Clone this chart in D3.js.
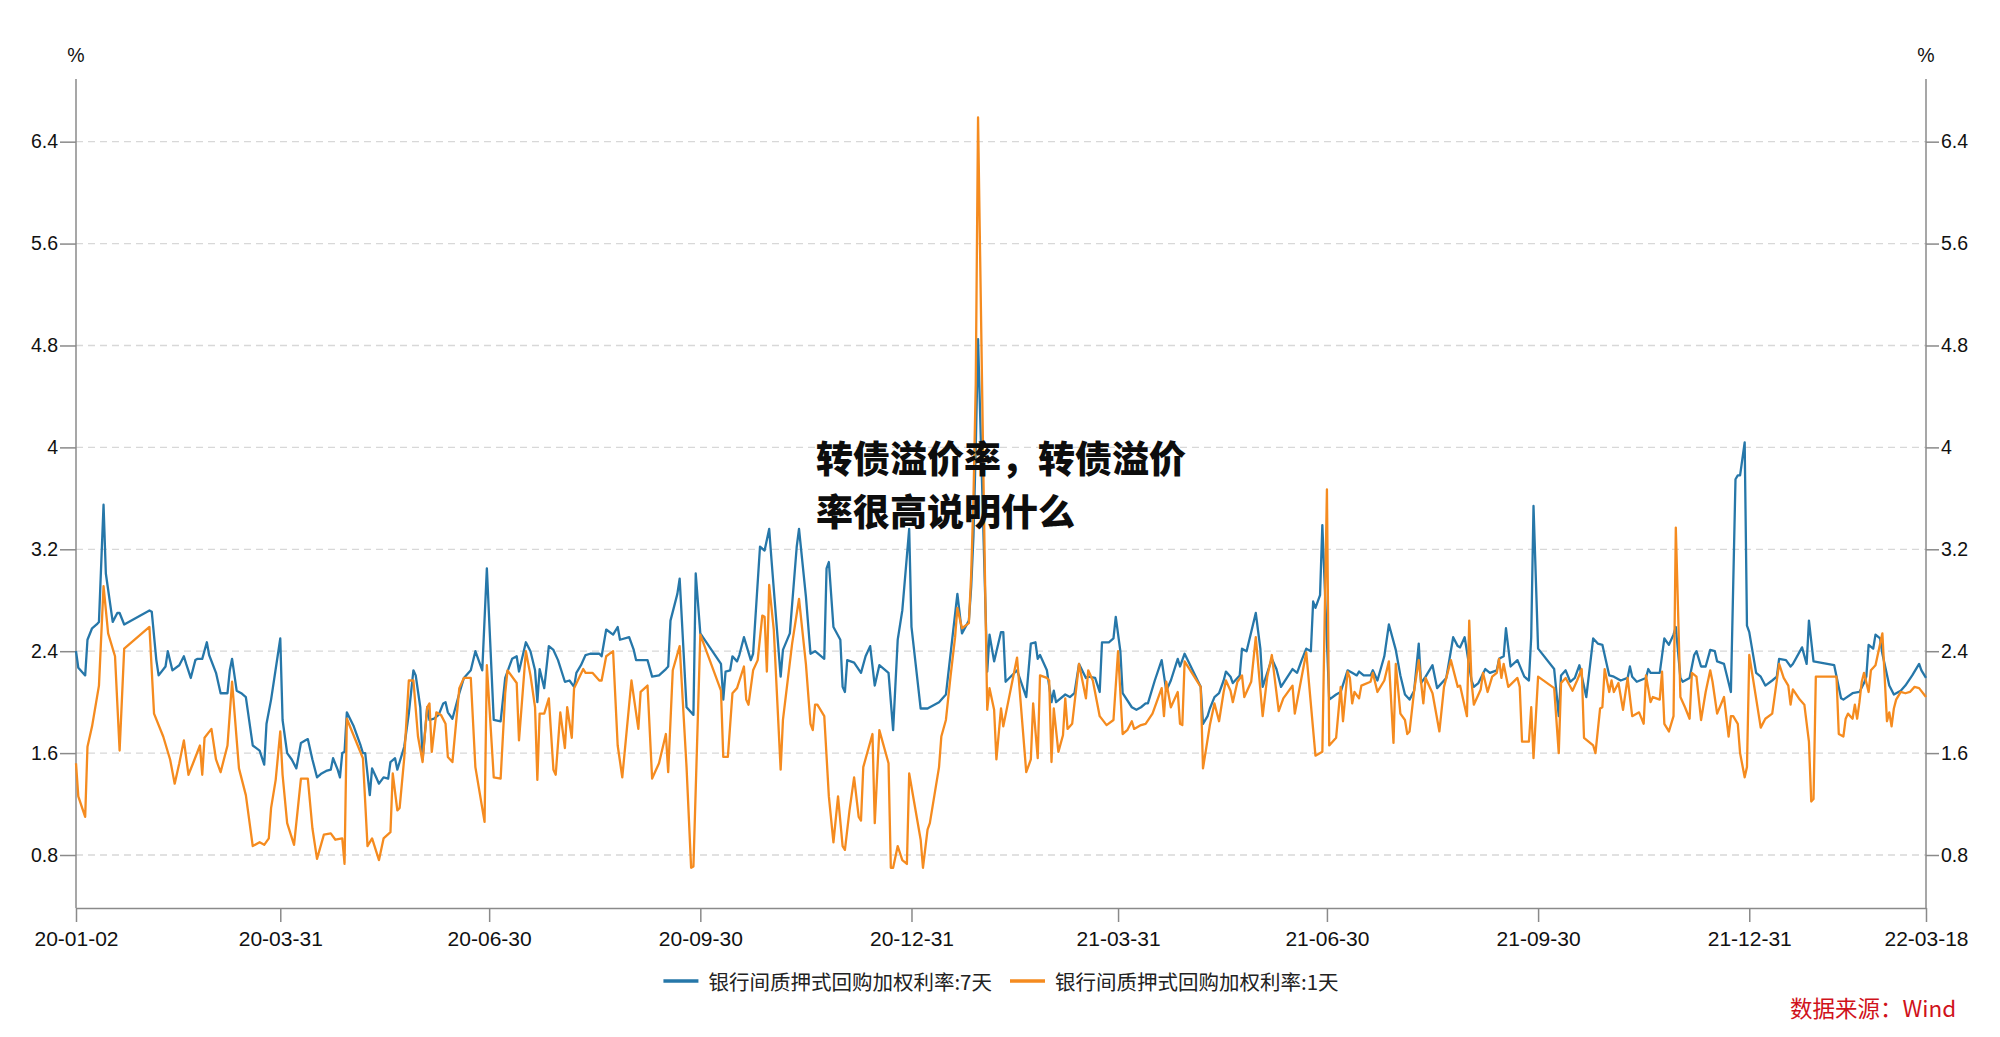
<!DOCTYPE html>
<html><head><meta charset="utf-8">
<script src="https://cdn.jsdelivr.net/npm/d3@7"></script>
<style>
html,body{margin:0;padding:0;background:#fff;}
svg{display:block;}
</style></head>
<body>
<svg id="chart" width="2000" height="1037"></svg>
<script>
// ---- DATA ----
const startDate = "2020-01-02";            // day offsets below are calendar days from this date
const endDate = "2022-03-18";
const xTickLabels = ["20-01-02","20-03-31","20-06-30","20-09-30","20-12-31","21-03-31","21-06-30","21-09-30","21-12-31","22-03-18"];
const yTicks = [0.8,1.6,2.4,3.2,4,4.8,5.6,6.4];
const seriesNames = ["银行间质押式回购加权利率:7天","银行间质押式回购加权利率:1天"];
const titleLines = ["转债溢价率，转债溢价","率很高说明什么"];
const sourceText = "数据来源：Wind";

// 7-day rate
const days7 = [0,1,4,5,7,9,10,12,13,16,18,19,21,32,33,35,36,39,40,42,45,47,48,50,52,53,55,57,58,61,63,66,67,68,70,72,74,77,80,82,83,85,89,90,92,94,96,98,100,101,103,105,107,109,111,112,114,115,116,117,118,121,124,125,126,128,129,131,132,134,136,137,139,140,143,145,147,148,150,151,153,154,156,158,160,161,162,164,167,169,172,174,177,179,182,185,187,190,192,193,196,198,200,201,202,204,
206,208,210,213,215,217,218,220,222,224,228,229,231,234,236,237,241,243,244,249,251,254,257,258,259,262,263,266,269,270,272,281,282,283,285,286,288,289,291,294,295,298,300,302,303,307,308,311,314,315,318,320,322,326,327,328,330,333,334,335,336,339,342,344,346,348,350,354,356,358,360,363,364,368,371,376,379,384,386,389,390,391,392,393,396,397,398,400,
403,404,405,410,414,416,418,419,420,423,425,426,427,431,433,435,437,440,441,444,446,447,450,452,453,455,456,460,462,464,466,467,470,473,475,477,480,481,483,490,491,493,494,496,498,500,501,503,504,507,508,510,514,516,517,521,523,525,530,532,534,536,538,539,540,542,543,546,549,551,554,556,558,559,561,564,565,567,570,572,575,577,579,581,583,585,586,588,591,593,597,600,602,
603,605,608,609,611,614,616,619,620,622,623,625,628,631,633,634,635,637,644,646,647,649,651,653,655,658,661,663,665,668,670,673,676,677,678,680,684,685,686,690,692,694,696,697,699,700,703,705,706,708,710,712,714,715,718,721,723,724,725,727,728,729,732,734,736,739,741,742,745,747,748,752,754,755,757,766,769,770,774,777,779,780,781,783,784,786,787,790,792,795,797,800,803,804,806];
const values7 = [2.40,2.27,2.21,2.49,2.58,2.61,2.63,3.55,3.01,2.63,2.70,2.70,2.61,2.72,2.71,2.33,2.21,2.28,2.40,2.25,2.29,2.36,2.30,2.19,2.33,2.34,2.34,2.47,2.37,2.23,2.07,2.07,2.25,2.34,2.09,2.07,2.04,1.66,1.62,1.51,1.83,2.02,2.50,1.86,1.60,1.55,1.48,1.68,1.70,1.71,1.55,1.41,1.44,1.46,1.47,1.56,1.47,1.41,1.60,1.61,1.92,1.81,1.66,1.60,1.60,1.27,1.48,1.40,1.36,1.41,1.40,1.53,1.56,1.47,1.65,1.91,2.25,2.21,1.96,1.55,1.96,1.86,1.87,1.90,1.99,2.00,1.92,1.87,2.07,2.19,2.25,2.40,2.25,3.05,1.86,1.85,2.19,2.34,2.36,2.24,2.47,2.40,2.25,2.00,2.26,2.11,
2.44,2.41,2.33,2.16,2.17,2.12,2.23,2.29,2.37,2.38,2.38,2.36,2.57,2.53,2.59,2.49,2.51,2.41,2.33,2.33,2.20,2.21,2.26,2.28,2.64,2.85,2.97,1.96,1.90,3.01,2.54,2.30,2.02,2.24,2.25,2.36,2.32,2.37,2.51,2.33,2.38,3.22,3.19,3.36,3.12,2.20,2.41,2.54,3.22,3.36,2.83,2.38,2.40,2.34,3.05,3.10,2.59,2.49,2.12,2.08,2.33,2.31,2.23,2.36,2.44,2.13,2.29,2.23,1.78,2.49,2.72,3.36,2.59,1.95,1.95,2.00,2.06,2.85,2.54,2.64,2.90,3.30,4.00,4.85,2.90,2.24,2.53,2.32,
2.55,2.55,2.16,2.25,2.04,2.46,2.47,2.34,2.37,2.25,2.00,2.09,2.00,2.06,2.04,2.07,2.30,2.19,2.20,2.19,2.08,2.47,2.47,2.50,2.67,2.40,2.07,1.96,1.94,1.96,1.99,1.99,2.17,2.33,2.09,2.17,2.34,2.28,2.38,2.12,1.83,1.89,1.95,2.04,2.07,2.17,2.24,2.20,2.15,2.21,2.42,2.40,2.70,2.42,2.12,2.34,2.26,2.12,2.26,2.23,2.33,2.42,2.40,2.79,2.74,2.84,3.39,2.02,2.06,2.08,2.25,2.23,2.21,2.24,2.21,2.21,2.25,2.17,2.36,2.61,2.41,2.21,2.06,2.02,2.09,2.46,2.15,2.20,2.29,2.11,2.19,2.51,2.44,
2.43,2.51,2.17,2.12,2.15,2.26,2.23,2.25,2.34,2.36,2.58,2.28,2.33,2.20,2.17,2.51,3.54,2.42,2.26,1.89,2.21,2.25,2.16,2.19,2.29,2.04,2.50,2.46,2.45,2.21,2.20,2.17,2.19,2.28,2.20,2.16,2.19,2.26,2.23,2.23,2.50,2.45,2.53,2.59,2.19,2.16,2.19,2.37,2.40,2.28,2.28,2.41,2.40,2.32,2.30,2.08,3.75,3.78,3.78,4.04,2.60,2.55,2.23,2.20,2.13,2.17,2.20,2.34,2.33,2.28,2.30,2.43,2.30,2.64,2.32,2.29,2.03,2.02,2.07,2.08,2.15,2.20,2.45,2.42,2.53,2.50,2.38,2.13,2.06,2.09,2.13,2.21,2.30,2.25,2.19];

// 1-day rate
const days1 = [0,1,4,5,7,10,12,14,17,19,21,32,34,38,41,43,45,47,49,51,54,55,56,59,61,63,66,68,71,74,77,80,82,84,85,87,89,90,92,95,98,101,103,105,108,111,113,116,117,118,125,127,129,132,134,137,138,140,141,143,145,147,149,151,153,154,155,157,159,161,162,164,167,169,172,174,178,179,182,185,187,188,192,193,196,198,200,201,202,204,
206,208,209,211,213,214,216,217,221,222,225,228,229,231,234,236,238,242,245,246,249,251,254,257,258,260,263,266,268,269,272,281,282,284,286,288,291,292,293,295,297,299,300,301,302,304,307,308,312,315,318,320,321,322,323,326,328,330,332,334,335,337,339,341,342,343,347,348,350,354,355,356,358,360,362,363,368,369,371,372,376,377,379,381,383,384,386,389,390,391,392,393,396,397,398,400,401,
403,404,410,414,416,417,419,420,423,424,425,426,428,430,431,432,434,437,440,441,443,446,449,452,454,456,458,460,461,464,466,469,473,474,475,477,480,481,482,483,490,491,494,496,498,500,501,503,504,506,508,509,512,514,517,519,521,524,526,530,531,534,536,540,543,545,546,549,551,552,554,555,556,557,559,560,564,565,567,570,572,574,575,577,579,580,581,583,585,587,588,591,594,596,599,602,
603,606,607,608,609,612,613,615,617,619,620,621,622,624,628,629,630,633,634,635,637,644,646,647,649,652,654,656,657,661,662,664,665,666,668,669,670,672,674,676,678,681,683,684,686,687,690,691,692,694,696,697,699,701,703,704,706,708,710,712,713,715,718,720,721,722,724,725,727,728,729,734,736,739,740,742,744,746,747,748,751,753,755,756,757,758,767,768,770,771,772,774,775,776,777,778,779,781,782,784,787,789,790,791,792,793,795,797,799,801,803,806];
const values1 = [1.52,1.26,1.10,1.65,1.81,2.13,2.91,2.54,2.36,1.62,2.42,2.59,1.91,1.73,1.55,1.36,1.52,1.70,1.43,1.52,1.66,1.43,1.72,1.79,1.55,1.45,1.66,2.16,1.48,1.27,0.87,0.90,0.88,0.93,1.17,1.39,1.77,1.43,1.05,0.88,1.40,1.40,1.01,0.77,0.96,0.97,0.92,0.93,0.73,1.87,1.56,0.87,0.93,0.76,0.93,0.98,1.44,1.15,1.17,1.56,2.17,2.17,1.73,1.53,1.96,1.99,1.61,1.92,1.90,1.83,1.57,1.53,2.11,2.19,2.19,1.49,1.06,2.29,1.41,1.40,2.07,2.25,2.15,1.70,2.40,2.21,1.96,1.39,1.91,1.91,
2.03,1.47,1.43,1.92,1.64,1.96,1.72,2.11,2.26,2.23,2.23,2.17,2.17,2.36,2.40,1.66,1.41,2.17,1.79,2.08,2.13,1.40,1.52,1.75,1.45,2.25,2.44,1.49,0.70,0.71,2.53,2.09,1.57,1.57,2.07,2.11,2.28,2.02,1.98,2.25,2.33,2.68,2.67,2.24,2.92,2.57,1.47,1.86,2.46,2.81,2.30,1.83,1.78,1.98,1.98,1.89,1.26,0.90,1.26,0.87,0.84,1.15,1.41,1.10,1.07,1.49,1.75,1.05,1.78,1.52,0.70,0.70,0.87,0.76,0.73,1.44,0.92,0.70,1.00,1.05,1.49,1.73,1.86,2.20,2.51,2.74,2.58,2.62,3.00,3.60,4.50,6.59,3.00,1.94,2.11,1.94,1.55,
1.95,1.81,2.35,1.45,1.55,1.99,1.56,2.21,2.19,2.17,1.53,1.95,1.61,1.74,2.03,1.79,1.83,2.30,2.03,2.25,2.17,1.89,1.82,1.86,2.40,1.75,1.78,1.85,1.79,1.82,1.83,1.91,2.11,1.89,2.16,1.96,2.08,1.83,1.82,2.32,2.12,1.48,1.82,1.99,1.85,2.08,2.17,2.09,2.00,2.16,2.21,2.04,2.16,2.51,1.89,2.20,2.37,1.93,2.03,2.13,1.91,2.20,2.39,1.58,1.61,3.67,1.66,1.72,2.12,1.85,2.24,2.19,1.99,2.08,2.03,2.13,2.16,2.23,2.08,2.17,2.32,1.68,2.30,1.91,1.86,1.75,1.77,2.09,2.33,1.99,2.19,2.07,1.77,2.12,2.33,2.12,
2.13,1.89,2.64,2.16,1.98,2.10,2.23,2.08,2.20,2.23,2.34,2.19,2.30,2.12,2.19,2.12,1.69,1.69,1.96,1.56,2.20,2.11,1.60,2.15,2.19,2.09,2.17,2.26,1.72,1.66,1.60,1.95,1.96,2.26,2.08,2.17,2.08,2.15,1.94,2.19,1.89,1.92,1.83,2.21,2.00,2.04,2.02,2.24,1.83,1.77,1.89,3.37,2.04,1.96,1.87,2.23,2.20,1.86,2.08,2.25,2.16,1.91,2.04,1.73,1.89,1.89,1.83,1.60,1.41,1.49,2.37,1.80,1.87,1.91,2.04,2.30,2.19,2.13,1.98,2.10,2.02,1.98,1.69,1.22,1.24,2.20,2.20,1.75,1.73,1.87,1.91,1.87,1.98,1.87,2.00,2.16,2.23,2.08,2.25,2.29,2.54,1.85,1.92,1.81,1.95,2.02,2.08,2.07,2.08,2.12,2.11,2.04];

const colors = ["#2677a9","#f58b1f"];

// ---- CHART ----
const svg = d3.select("#chart");
const plot = {left:76, right:1926, top:79, bottom:908};
const parseDay = d3.timeParse("%Y-%m-%d");
const parseTick = d3.timeParse("%y-%m-%d");
const t0 = parseDay(startDate), t1 = parseDay(endDate);

const x = d3.scaleTime().domain([t0, t1]).range([plot.left, plot.right]);
const y = d3.scaleLinear().domain([0.384, 6.892]).range([plot.bottom, plot.top]);

const FONT = "'Liberation Sans', Arial, Helvetica, sans-serif";
const CJK = "'Noto Sans CJK SC', 'Noto Sans', sans-serif";

// grid
svg.append("g").selectAll("line").data(yTicks).join("line")
  .attr("x1", plot.left).attr("x2", plot.right)
  .attr("y1", d => y(d)).attr("y2", d => y(d))
  .attr("stroke", "#d8d8d8").attr("stroke-width", 1.3)
  .attr("stroke-dasharray", "7,5");

const fmtY = d => String(+d.toFixed(1));

const gL = svg.append("g").attr("transform", `translate(${plot.left},0)`)
  .call(d3.axisLeft(y).tickValues(yTicks).tickFormat(fmtY).tickSize(16).tickPadding(2).tickSizeOuter(0));
const gR = svg.append("g").attr("transform", `translate(${plot.right},0)`)
  .call(d3.axisRight(y).tickValues(yTicks).tickFormat(fmtY).tickSize(13).tickPadding(2).tickSizeOuter(0));
const xTicks = xTickLabels.map(s => parseTick(s));
const gB = svg.append("g").attr("transform", `translate(0,${plot.bottom})`)
  .call(d3.axisBottom(x).tickValues(xTicks).tickFormat(d3.timeFormat("%y-%m-%d")).tickSize(14).tickPadding(9).tickSizeOuter(0));

[gL, gR, gB].forEach(g => {
  g.select(".domain").attr("stroke", "#8a8a8a").attr("stroke-width", 1.5);
  g.selectAll(".tick line").attr("stroke", "#8a8a8a").attr("stroke-width", 1.5);
  g.selectAll("text").attr("fill", "#111").attr("font-family", FONT);
});
gL.selectAll("text").attr("font-size", 19.5);
gR.selectAll("text").attr("font-size", 19.5);
gB.selectAll("text").attr("font-size", 21);
gL.select(".domain").attr("d", `M0,${plot.top}V${plot.bottom}`);
gR.select(".domain").attr("d", `M0,${plot.top}V${plot.bottom}`);

// % unit labels
[plot.left, plot.right].forEach(px => {
  svg.append("text").attr("x", px).attr("y", 62).attr("text-anchor","middle")
    .attr("font-family", FONT).attr("font-size", 19.5).attr("fill","#111").text("%");
});

// lines
const series = [
  {name: seriesNames[0], days: days7, values: values7, color: colors[0]},
  {name: seriesNames[1], days: days1, values: values1, color: colors[1]}
];
const line = d3.line().x(d => x(d.date)).y(d => y(d.v));
series.forEach(s => {
  const pts = s.days.map((dd, i) => ({date: d3.timeDay.offset(t0, dd), v: s.values[i]}));
  svg.append("path").datum(pts)
    .attr("fill","none").attr("stroke", s.color).attr("stroke-width", 2.3)
    .attr("stroke-linejoin","round").attr("d", line);
});

// title overlay
titleLines.forEach((t, i) => {
  svg.append("text").attr("x", 816).attr("y", 473 + i*53)
    .attr("font-family", CJK).attr("font-weight", 900).attr("font-size", 37)
    .attr("fill", "#0d0d0d").text(t);
});

// legend
const lg = svg.append("g");
const legY = 981;
const tmp = series.map(s => lg.append("text").attr("font-family", CJK).attr("font-size", 20.5).attr("fill","#222")
    .attr("dominant-baseline","central").attr("y", legY).text(s.name));
const markW = 35, gap1 = 10, gap2 = 18;
const widths = tmp.map(t => t.node().getComputedTextLength());
const total = widths.reduce((a,b)=>a+b,0) + 2*(markW+gap1) + gap2;
let cx = (plot.left + plot.right)/2 - total/2;
series.forEach((s, i) => {
  lg.append("line").attr("x1", cx).attr("x2", cx+markW).attr("y1", legY).attr("y2", legY)
    .attr("stroke", s.color).attr("stroke-width", 3.5);
  tmp[i].attr("x", cx + markW + gap1);
  cx += markW + gap1 + widths[i] + gap2;
});

// source
svg.append("text").attr("x", 1790).attr("y", 1017)
  .attr("font-family", CJK).attr("font-size", 22.5).attr("fill", "#d0121b").text(sourceText);
</script>
</body></html>
